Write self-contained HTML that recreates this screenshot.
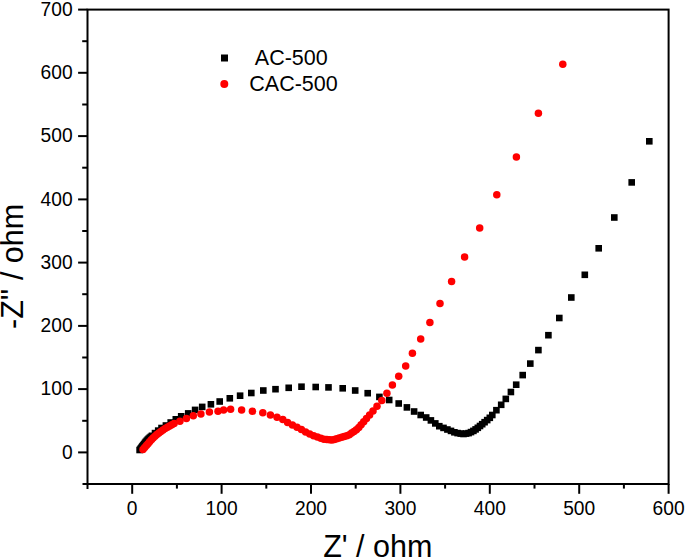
<!DOCTYPE html>
<html><head><meta charset="utf-8"><style>
html,body{margin:0;padding:0;background:#fff;}
body{width:685px;height:559px;overflow:hidden;}
svg{display:block;font-family:"Liberation Sans",sans-serif;}
</style></head><body>
<svg width="685" height="559" viewBox="0 0 685 559">
<rect width="685" height="559" fill="#fff"/>
<g stroke="#000" stroke-width="2.0" fill="none">
<rect x="87.5" y="9.6" width="581.1" height="474.4"/>
<line x1="132.2" y1="484.0" x2="132.2" y2="493.8"/>
<line x1="176.9" y1="484.0" x2="176.9" y2="488.6"/>
<line x1="221.6" y1="484.0" x2="221.6" y2="493.8"/>
<line x1="266.3" y1="484.0" x2="266.3" y2="488.6"/>
<line x1="311.0" y1="484.0" x2="311.0" y2="493.8"/>
<line x1="355.7" y1="484.0" x2="355.7" y2="488.6"/>
<line x1="400.4" y1="484.0" x2="400.4" y2="493.8"/>
<line x1="445.1" y1="484.0" x2="445.1" y2="488.6"/>
<line x1="489.8" y1="484.0" x2="489.8" y2="493.8"/>
<line x1="534.5" y1="484.0" x2="534.5" y2="488.6"/>
<line x1="579.2" y1="484.0" x2="579.2" y2="493.8"/>
<line x1="623.9" y1="484.0" x2="623.9" y2="488.6"/>
<line x1="668.6" y1="484.0" x2="668.6" y2="493.8"/>
<line x1="78.1" y1="452.4" x2="87.5" y2="452.4"/>
<line x1="82.2" y1="420.8" x2="87.5" y2="420.8"/>
<line x1="78.1" y1="389.1" x2="87.5" y2="389.1"/>
<line x1="82.2" y1="357.5" x2="87.5" y2="357.5"/>
<line x1="78.1" y1="325.9" x2="87.5" y2="325.9"/>
<line x1="82.2" y1="294.2" x2="87.5" y2="294.2"/>
<line x1="78.1" y1="262.6" x2="87.5" y2="262.6"/>
<line x1="82.2" y1="231.0" x2="87.5" y2="231.0"/>
<line x1="78.1" y1="199.4" x2="87.5" y2="199.4"/>
<line x1="82.2" y1="167.7" x2="87.5" y2="167.7"/>
<line x1="78.1" y1="136.1" x2="87.5" y2="136.1"/>
<line x1="82.2" y1="104.5" x2="87.5" y2="104.5"/>
<line x1="78.1" y1="72.8" x2="87.5" y2="72.8"/>
<line x1="82.2" y1="41.2" x2="87.5" y2="41.2"/>
<line x1="78.1" y1="9.6" x2="87.5" y2="9.6"/>
<line x1="87.5" y1="484.0" x2="87.5" y2="489.0"/>
<line x1="82.5" y1="484.0" x2="87.5" y2="484.0"/>
</g>
<g font-size="20" fill="#000">
<text transform="translate(132.2,514.5) scale(0.96,1)" text-anchor="middle">0</text>
<text transform="translate(221.6,514.5) scale(0.96,1)" text-anchor="middle">100</text>
<text transform="translate(311.0,514.5) scale(0.96,1)" text-anchor="middle">200</text>
<text transform="translate(400.4,514.5) scale(0.96,1)" text-anchor="middle">300</text>
<text transform="translate(489.8,514.5) scale(0.96,1)" text-anchor="middle">400</text>
<text transform="translate(579.2,514.5) scale(0.96,1)" text-anchor="middle">500</text>
<text transform="translate(668.6,514.5) scale(0.96,1)" text-anchor="middle">600</text>
<text transform="translate(72.6,458.5) scale(0.96,1)" text-anchor="end">0</text>
<text transform="translate(72.6,395.2) scale(0.96,1)" text-anchor="end">100</text>
<text transform="translate(72.6,332.0) scale(0.96,1)" text-anchor="end">200</text>
<text transform="translate(72.6,268.7) scale(0.96,1)" text-anchor="end">300</text>
<text transform="translate(72.6,205.5) scale(0.96,1)" text-anchor="end">400</text>
<text transform="translate(72.6,142.2) scale(0.96,1)" text-anchor="end">500</text>
<text transform="translate(72.6,78.9) scale(0.96,1)" text-anchor="end">600</text>
<text transform="translate(72.6,15.7) scale(0.96,1)" text-anchor="end">700</text>
</g>
<text x="377.8" y="556.6" font-size="30.5" text-anchor="middle">Z' / ohm</text>
<text transform="translate(23.2,266.4) rotate(-90)" font-size="30.5" text-anchor="middle">-Z'' / ohm</text>
<rect x="221" y="54.5" width="7" height="7" fill="#000"/>
<circle cx="224.3" cy="84" r="4" fill="#f00"/>
<text x="291.3" y="64.5" font-size="21.5" text-anchor="middle">AC-500</text>
<text x="293.5" y="91.2" font-size="21.5" text-anchor="middle">CAC-500</text>
<g fill="#000">
<rect x="136.3" y="446.7" width="6.6" height="6.6"/>
<rect x="137.2" y="445.5" width="6.6" height="6.6"/>
<rect x="138.1" y="444.4" width="6.6" height="6.6"/>
<rect x="138.9" y="443.2" width="6.6" height="6.6"/>
<rect x="139.8" y="442.1" width="6.6" height="6.6"/>
<rect x="140.7" y="440.9" width="6.6" height="6.6"/>
<rect x="141.6" y="439.7" width="6.6" height="6.6"/>
<rect x="142.4" y="438.6" width="6.6" height="6.6"/>
<rect x="143.4" y="437.5" width="6.6" height="6.6"/>
<rect x="144.4" y="436.4" width="6.6" height="6.6"/>
<rect x="145.4" y="435.4" width="6.6" height="6.6"/>
<rect x="146.5" y="434.4" width="6.6" height="6.6"/>
<rect x="147.6" y="433.5" width="6.6" height="6.6"/>
<rect x="148.7" y="432.5" width="6.6" height="6.6"/>
<rect x="151.7" y="429.8" width="6.6" height="6.6"/>
<rect x="154.9" y="427.3" width="6.6" height="6.6"/>
<rect x="158.2" y="424.7" width="6.6" height="6.6"/>
<rect x="162.6" y="422.2" width="6.6" height="6.6"/>
<rect x="167.4" y="419.2" width="6.6" height="6.6"/>
<rect x="172.5" y="416.0" width="6.6" height="6.6"/>
<rect x="177.9" y="413.0" width="6.6" height="6.6"/>
<rect x="184.9" y="410.1" width="6.6" height="6.6"/>
<rect x="191.8" y="406.6" width="6.6" height="6.6"/>
<rect x="198.9" y="403.6" width="6.6" height="6.6"/>
<rect x="207.6" y="401.0" width="6.6" height="6.6"/>
<rect x="216.4" y="398.2" width="6.6" height="6.6"/>
<rect x="226.5" y="395.0" width="6.6" height="6.6"/>
<rect x="236.8" y="392.4" width="6.6" height="6.6"/>
<rect x="248.0" y="389.7" width="6.6" height="6.6"/>
<rect x="260.0" y="387.2" width="6.6" height="6.6"/>
<rect x="272.2" y="385.9" width="6.6" height="6.6"/>
<rect x="285.4" y="384.5" width="6.6" height="6.6"/>
<rect x="298.2" y="383.4" width="6.6" height="6.6"/>
<rect x="312.4" y="383.7" width="6.6" height="6.6"/>
<rect x="325.2" y="384.1" width="6.6" height="6.6"/>
<rect x="339.4" y="385.0" width="6.6" height="6.6"/>
<rect x="351.9" y="387.2" width="6.6" height="6.6"/>
<rect x="364.4" y="389.9" width="6.6" height="6.6"/>
<rect x="376.1" y="393.6" width="6.6" height="6.6"/>
<rect x="385.9" y="396.7" width="6.6" height="6.6"/>
<rect x="395.4" y="400.2" width="6.6" height="6.6"/>
<rect x="403.6" y="404.1" width="6.6" height="6.6"/>
<rect x="410.8" y="408.2" width="6.6" height="6.6"/>
<rect x="417.4" y="411.7" width="6.6" height="6.6"/>
<rect x="422.9" y="414.2" width="6.6" height="6.6"/>
<rect x="427.6" y="417.1" width="6.6" height="6.6"/>
<rect x="432.0" y="420.1" width="6.6" height="6.6"/>
<rect x="436.0" y="422.9" width="6.6" height="6.6"/>
<rect x="440.2" y="424.6" width="6.6" height="6.6"/>
<rect x="444.1" y="426.2" width="6.6" height="6.6"/>
<rect x="447.7" y="427.6" width="6.6" height="6.6"/>
<rect x="451.1" y="429.0" width="6.6" height="6.6"/>
<rect x="454.3" y="429.8" width="6.6" height="6.6"/>
<rect x="457.4" y="430.3" width="6.6" height="6.6"/>
<rect x="460.2" y="430.7" width="6.6" height="6.6"/>
<rect x="462.8" y="430.3" width="6.6" height="6.6"/>
<rect x="465.3" y="429.8" width="6.6" height="6.6"/>
<rect x="467.7" y="428.8" width="6.6" height="6.6"/>
<rect x="470.1" y="427.6" width="6.6" height="6.6"/>
<rect x="472.3" y="426.1" width="6.6" height="6.6"/>
<rect x="474.5" y="424.5" width="6.6" height="6.6"/>
<rect x="476.7" y="422.7" width="6.6" height="6.6"/>
<rect x="478.9" y="420.9" width="6.6" height="6.6"/>
<rect x="481.3" y="418.9" width="6.6" height="6.6"/>
<rect x="483.9" y="416.8" width="6.6" height="6.6"/>
<rect x="486.5" y="414.5" width="6.6" height="6.6"/>
<rect x="489.0" y="411.7" width="6.6" height="6.6"/>
<rect x="493.1" y="406.9" width="6.6" height="6.6"/>
<rect x="497.9" y="401.5" width="6.6" height="6.6"/>
<rect x="502.5" y="395.6" width="6.6" height="6.6"/>
<rect x="507.6" y="388.7" width="6.6" height="6.6"/>
<rect x="512.9" y="381.4" width="6.6" height="6.6"/>
<rect x="519.4" y="371.8" width="6.6" height="6.6"/>
<rect x="527.0" y="360.3" width="6.6" height="6.6"/>
<rect x="535.1" y="346.8" width="6.6" height="6.6"/>
<rect x="545.1" y="331.9" width="6.6" height="6.6"/>
<rect x="556.0" y="314.7" width="6.6" height="6.6"/>
<rect x="568.0" y="294.2" width="6.6" height="6.6"/>
<rect x="581.5" y="271.5" width="6.6" height="6.6"/>
<rect x="595.4" y="245.0" width="6.6" height="6.6"/>
<rect x="611.0" y="214.2" width="6.6" height="6.6"/>
<rect x="628.4" y="179.1" width="6.6" height="6.6"/>
<rect x="646.0" y="138.0" width="6.6" height="6.6"/>
</g><g fill="#f00">
<circle cx="143.0" cy="449.5" r="3.75"/>
<circle cx="144.7" cy="447.6" r="3.75"/>
<circle cx="146.4" cy="445.6" r="3.75"/>
<circle cx="148.0" cy="443.7" r="3.75"/>
<circle cx="149.6" cy="441.7" r="3.75"/>
<circle cx="151.4" cy="439.8" r="3.75"/>
<circle cx="153.1" cy="438.0" r="3.75"/>
<circle cx="155.0" cy="436.2" r="3.75"/>
<circle cx="156.9" cy="434.5" r="3.75"/>
<circle cx="158.9" cy="432.9" r="3.75"/>
<circle cx="160.9" cy="431.4" r="3.75"/>
<circle cx="163.0" cy="429.9" r="3.75"/>
<circle cx="165.2" cy="428.5" r="3.75"/>
<circle cx="167.4" cy="427.2" r="3.75"/>
<circle cx="169.6" cy="425.9" r="3.75"/>
<circle cx="171.8" cy="424.7" r="3.75"/>
<circle cx="174.1" cy="423.5" r="3.75"/>
<circle cx="179.9" cy="421.3" r="3.75"/>
<circle cx="186.4" cy="418.6" r="3.75"/>
<circle cx="193.3" cy="415.8" r="3.75"/>
<circle cx="200.9" cy="413.9" r="3.75"/>
<circle cx="209.4" cy="412.1" r="3.75"/>
<circle cx="218.0" cy="411.3" r="3.75"/>
<circle cx="223.6" cy="410.0" r="3.75"/>
<circle cx="230.6" cy="409.3" r="3.75"/>
<circle cx="241.6" cy="410.0" r="3.75"/>
<circle cx="252.4" cy="411.3" r="3.75"/>
<circle cx="262.8" cy="412.7" r="3.75"/>
<circle cx="270.4" cy="415.1" r="3.75"/>
<circle cx="277.0" cy="417.3" r="3.75"/>
<circle cx="282.8" cy="419.5" r="3.75"/>
<circle cx="287.6" cy="422.4" r="3.75"/>
<circle cx="292.4" cy="424.9" r="3.75"/>
<circle cx="297.0" cy="427.3" r="3.75"/>
<circle cx="301.4" cy="429.6" r="3.75"/>
<circle cx="305.6" cy="431.9" r="3.75"/>
<circle cx="309.7" cy="433.9" r="3.75"/>
<circle cx="313.6" cy="435.7" r="3.75"/>
<circle cx="317.4" cy="437.1" r="3.75"/>
<circle cx="320.8" cy="438.3" r="3.75"/>
<circle cx="323.9" cy="439.3" r="3.75"/>
<circle cx="326.8" cy="439.5" r="3.75"/>
<circle cx="329.5" cy="439.8" r="3.75"/>
<circle cx="331.9" cy="439.9" r="3.75"/>
<circle cx="334.3" cy="439.5" r="3.75"/>
<circle cx="336.7" cy="438.8" r="3.75"/>
<circle cx="339.2" cy="438.1" r="3.75"/>
<circle cx="341.7" cy="437.3" r="3.75"/>
<circle cx="344.2" cy="436.6" r="3.75"/>
<circle cx="346.8" cy="435.8" r="3.75"/>
<circle cx="349.3" cy="434.7" r="3.75"/>
<circle cx="351.6" cy="433.0" r="3.75"/>
<circle cx="354.0" cy="431.4" r="3.75"/>
<circle cx="356.4" cy="429.7" r="3.75"/>
<circle cx="358.8" cy="427.4" r="3.75"/>
<circle cx="361.1" cy="424.7" r="3.75"/>
<circle cx="363.7" cy="421.7" r="3.75"/>
<circle cx="366.5" cy="418.5" r="3.75"/>
<circle cx="369.6" cy="414.9" r="3.75"/>
<circle cx="373.0" cy="411.1" r="3.75"/>
<circle cx="377.0" cy="406.2" r="3.75"/>
<circle cx="381.8" cy="400.4" r="3.75"/>
<circle cx="386.9" cy="393.2" r="3.75"/>
<circle cx="392.4" cy="385.1" r="3.75"/>
<circle cx="398.7" cy="376.3" r="3.75"/>
<circle cx="405.7" cy="366.0" r="3.75"/>
<circle cx="412.4" cy="353.3" r="3.75"/>
<circle cx="420.7" cy="339.0" r="3.75"/>
<circle cx="429.9" cy="322.4" r="3.75"/>
<circle cx="440.0" cy="303.5" r="3.75"/>
<circle cx="451.6" cy="281.5" r="3.75"/>
<circle cx="464.6" cy="256.9" r="3.75"/>
<circle cx="479.7" cy="227.9" r="3.75"/>
<circle cx="496.8" cy="194.7" r="3.75"/>
<circle cx="516.4" cy="157.1" r="3.75"/>
<circle cx="538.4" cy="113.3" r="3.75"/>
<circle cx="562.8" cy="64.2" r="3.75"/>
</g>
</svg>
</body></html>
